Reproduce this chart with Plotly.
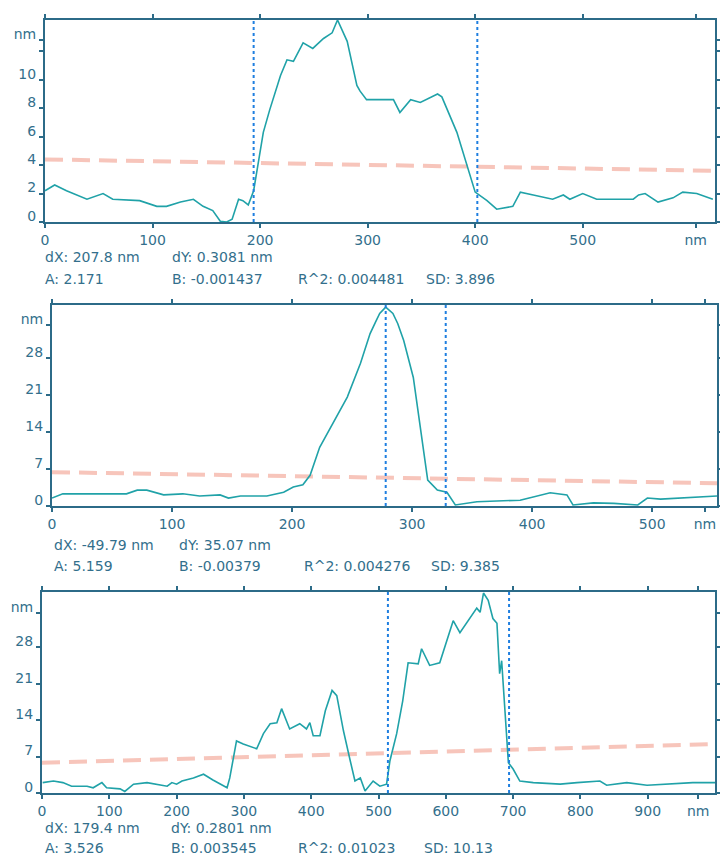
import plotly.graph_objects as go

# ---------------- data ----------------
# Panel 1 profile (nm vs nm)
x1 = [0, 9, 20, 39, 54, 63, 88, 104, 113, 126, 138, 147, 156, 163, 169, 174, 180, 184, 189, 194,
      203, 209, 219, 225, 231, 240, 249, 259, 267, 272, 281, 290, 293, 299, 324, 330, 340, 349, 365, 369,
      383, 393, 400, 411, 420, 435, 442, 454, 472, 482, 488, 500, 513, 547, 552, 558, 570, 584, 593, 606, 621]
y1 = [2.2, 2.6, 2.2, 1.6, 2.0, 1.6, 1.5, 1.1, 1.1, 1.4, 1.6, 1.1, 0.8, 0.05, 0, 0.2, 1.6, 1.5, 1.2, 2.2,
      6.3, 7.9, 10.3, 11.4, 11.3, 12.6, 12.2, 12.9, 13.3, 14.2, 12.7, 9.6, 9.2, 8.6, 8.6, 7.7, 8.6, 8.4, 9.0, 8.8,
      6.3, 3.9, 2.1, 1.5, 0.9, 1.1, 2.1, 1.9, 1.6, 1.9, 1.6, 2.0, 1.6, 1.6, 1.9, 2.0, 1.4, 1.7, 2.1, 2.0, 1.6]
# Panel 2 profile
x2 = [0, 9, 62, 71, 79, 93, 109, 123, 140, 147, 157, 179, 193, 201, 209, 215, 223, 234, 246, 257,
      265, 270, 273, 278, 284, 288, 293, 301, 308, 313, 321, 329, 336, 354, 390, 415, 429, 434, 451, 468,
      488, 496, 507, 523, 546, 554]
y2 = [1.5, 2.3, 2.3, 3.0, 3.0, 2.1, 2.3, 1.9, 2.1, 1.5, 1.9, 1.9, 2.6, 3.6, 4.0, 5.8, 11.1, 15.7, 20.6, 27.0,
      32.6, 35.0, 36.4, 37.6, 36.4, 34.5, 31.3, 24.3, 12.5, 4.9, 3.0, 2.6, 0.2, 0.8, 1.1, 2.5, 2.1, 0.2, 0.6, 0.5,
      0.2, 1.5, 1.3, 1.5, 1.7, 1.9]
# Panel 3 profile
x3 = [1, 17, 31, 44, 67, 76, 89, 96, 116, 123, 136, 156, 186, 193, 200, 208, 225, 240, 254, 275,
      279, 289, 299, 319, 329, 339, 349, 356, 368, 383, 393, 398, 403, 413, 421, 431, 438, 448, 458, 465,
      473, 480, 492, 502, 512, 517, 527, 536, 544, 559, 564, 576, 591, 611, 621, 646, 651, 656, 663, 670,
      676, 680, 683, 685, 691, 693, 700, 710, 730, 770, 795, 829, 839, 869, 899, 933, 967, 1000]
y3 = [2.0, 2.3, 2.0, 1.3, 1.3, 1.0, 2.0, 1.0, 0.8, 0.3, 1.7, 2.0, 1.3, 2.0, 1.7, 2.3, 2.9, 3.6, 2.5, 1.0,
      2.9, 10.0, 9.4, 8.5, 11.4, 13.3, 13.5, 16.2, 12.3, 13.3, 12.3, 13.5, 11.0, 11.0, 15.8, 19.7, 18.7, 11.9, 6.2, 2.3,
      2.9, 0.4, 2.3, 1.3, 1.7, 6.2, 11.4, 17.7, 25.0, 24.8, 27.7, 24.5, 25.0, 33.1, 30.8, 35.5, 34.7, 38.4, 37.0, 33.5,
      32.6, 22.9, 25.4, 21.0, 8.7, 5.8, 4.6, 2.3, 2.0, 1.7, 2.0, 2.3, 1.5, 2.0, 1.5, 1.7, 2.0, 2.0]

# fit (red dashed) lines: endpoints
red1_x, red1_y = [0, 623], [4.4, 3.6]
red2_x, red2_y = [0, 554], [6.4, 4.3]
red3_x, red3_y = [0, 1000], [5.8, 9.4]

# cursor positions
cur1 = [194, 402]
cur2 = [278, 328]
cur3 = [514, 694]

# axis ranges
xr1, yr1 = [0, 623], [0, 14.2]
xr2, yr2 = [0, 554], [0, 38.0]
xr3, yr3 = [0, 1000], [0, 38.6]

# tick labels
xt1 = [0, 100, 200, 300, 400, 500, 605]
xl1 = ["0", "100", "200", "300", "400", "500", "nm"]
yt1 = [0, 2, 4, 6, 8, 10, 12, 12.8]
yl1 = ["0", "2", "4", "6", "8", "10", "", "nm"]
xt2 = [0, 100, 200, 300, 400, 500, 544]
xl2 = ["0", "100", "200", "300", "400", "500", "nm"]
yt2 = [0, 7, 14, 21, 28, 34.2]
yl2 = ["0", "7", "14", "21", "28", "nm"]
xt3 = [0, 100, 200, 300, 400, 500, 600, 700, 800, 900, 975]
xl3 = ["0", "100", "200", "300", "400", "500", "600", "700", "800", "900", "nm"]
yt3 = [0, 7, 14, 21, 28, 34.5]
yl3 = ["0", "7", "14", "21", "28", "nm"]

# statistics text rows
stats1 = [["dX: 207.8 nm", "dY: 0.3081 nm"], ["A: 2.171", "B: -0.001437", "R^2: 0.004481", "SD: 3.896"]]
stats2 = [["dX: -49.79 nm", "dY: 35.07 nm"], ["A: 5.159", "B: -0.00379", "R^2: 0.004276", "SD: 9.385"]]
stats3 = [["dX: 179.4 nm", "dY: 0.2801 nm"], ["A: 3.526", "B: 0.003545", "R^2: 0.01023", "SD: 10.13"]]

# ---------------- styling / layout ----------------
W, H = 720, 859
FRAME = "#2c6b88"
TXT = "#336f8c"
CURVE = "#20a2a8"
CURSOR = "#1f7fe0"
RED = "rgba(240,140,120,0.5)"
FONT = "DejaVu Sans, Verdana, sans-serif"
FS = 14


def px_x(p):
    return p / W


def px_y(p):
    return 1 - p / H


panels = [
    (x1, y1, red1_x, red1_y, cur1, xr1, yr1, xt1, xl1, yt1, yl1, stats1, (45, 715, 20, 222),
     [43, 170, 296, 424], [257, 279]),
    (x2, y2, red2_x, red2_y, cur2, xr2, yr2, xt2, xl2, yt2, yl2, stats2, (52, 717, 305, 506),
     [52, 177, 302, 429], [545, 566]),
    (x3, y3, red3_x, red3_y, cur3, xr3, yr3, xt3, xl3, yt3, yl3, stats3, (42, 715, 592, 793),
     [43, 169, 296, 422], [828, 848]),
]

fig = go.Figure()
annotations = []
layout = dict(
    width=W, height=H,
    margin=dict(l=0, r=0, t=0, b=0, pad=0, autoexpand=False),
    paper_bgcolor="white", plot_bgcolor="white",
    showlegend=False,
    font=dict(family=FONT, size=FS, color=TXT),
)

for i, (xs, ys, rx, ry, cur, xr, yr, xt, xl, yt, yl, stats, box, cols, rows) in enumerate(panels):
    n = "" if i == 0 else str(i + 1)
    xa, ya = "x" + n, "y" + n
    l, r, t, b = box
    layout["xaxis" + n] = dict(
        domain=[px_x(l), px_x(r)], range=xr, anchor=ya, automargin=False,
        showline=True, linecolor=FRAME, linewidth=2, mirror="ticks",
        ticks="outside", ticklen=4, tickwidth=1.5, tickcolor=FRAME,
        tickvals=xt, ticktext=xl, showgrid=False, zeroline=False,
        tickfont=dict(family=FONT, size=FS, color=TXT), fixedrange=True,
    )
    layout["yaxis" + n] = dict(
        domain=[px_y(b), px_y(t)], range=yr, anchor=xa, automargin=False,
        showline=True, linecolor=FRAME, linewidth=2, mirror="ticks",
        ticks="outside", ticklen=4, tickwidth=1.5, tickcolor=FRAME,
        tickvals=yt, ticktext=yl, showgrid=False, zeroline=False,
        ticklabelshift=-6, ticklabelstandoff=0,
        tickfont=dict(family=FONT, size=FS, color=TXT), fixedrange=True,
    )
    # red dashed fit line
    fig.add_trace(go.Scatter(x=rx, y=ry, mode="lines", xaxis=xa, yaxis=ya,
                             line=dict(color=RED, width=4, dash="18px,9px"), hoverinfo="skip"))
    # profile
    fig.add_trace(go.Scatter(x=xs, y=ys, mode="lines", xaxis=xa, yaxis=ya,
                             line=dict(color=CURVE, width=1.6), hoverinfo="skip"))
    # cursors
    for c in cur:
        fig.add_trace(go.Scatter(x=[c, c], y=yr, mode="lines", xaxis=xa, yaxis=ya,
                                 line=dict(color=CURSOR, width=2, dash="dot"), hoverinfo="skip"))
    # statistics text
    for ri, row in enumerate(stats):
        for ci, txt in enumerate(row):
            annotations.append(dict(
                text=txt, x=px_x(cols[ci]), y=px_y(rows[ri]), xref="paper", yref="paper",
                xanchor="left", yanchor="middle", showarrow=False,
                font=dict(family=FONT, size=FS, color=TXT),
            ))

layout["annotations"] = annotations
fig.update_layout(**layout)
# remove the default page margin and scrollbars so the figure fills the window exactly
fig.write_html(
    "out.html",
    config={"displayModeBar": False},
    post_script="document.body.style.margin='0';document.body.style.overflow='hidden';"
                "document.documentElement.style.overflow='hidden';",
)
